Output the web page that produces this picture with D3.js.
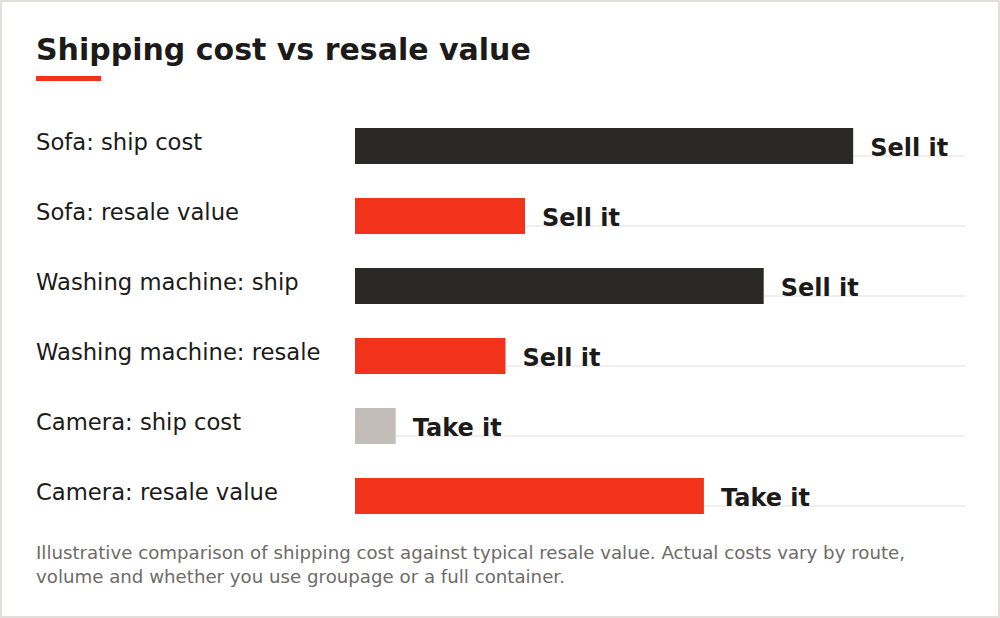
<!DOCTYPE html>
<html>
<head>
    <meta charset="utf-8">
    <title>Shipping cost vs resale value</title>
    <script src="https://d3js.org/d3.v7.min.js"></script>
    <style>
        html, body {
            margin: 0;
            padding: 0;
            background: #fff;
        }
        svg {
            display: block;
            font-family: "DejaVu Sans", sans-serif;
        }
    </style>
</head>
<body>
    <svg id="chart" width="1000" height="618"></svg>

    <script>
        // Data
        const categories = [
            "Sofa: ship cost",
            "Sofa: resale value",
            "Washing machine: ship",
            "Washing machine: resale",
            "Camera: ship cost",
            "Camera: resale value"
        ];
        const values = [1225, 418, 1005, 370, 100, 858];
        const kinds = ["ship", "resale", "ship", "resale", "ship", "resale"];
        const verdicts = ["Sell it", "Sell it", "Sell it", "Sell it", "Take it", "Take it"];
        const domainMax = 1500;

        const colors = {
            ship: "#2b2927",
            resale: "#f2321a",
            shipSmall: "#c2bdb9"
        };

        const svg = d3.select("#chart");
        const width = +svg.attr("width");
        const height = +svg.attr("height");

        // frame
        svg.append("rect")
            .attr("x", 1).attr("y", 1)
            .attr("width", width - 2).attr("height", height - 2)
            .attr("fill", "#fff")
            .attr("stroke", "#e2dfdb")
            .attr("stroke-width", 2);

        // title + accent bar
        svg.append("text")
            .attr("x", 36).attr("y", 60)
            .attr("font-size", 30)
            .attr("font-weight", "bold")
            .attr("fill", "#1c1b1a")
            .text("Shipping cost vs resale value");

        svg.append("rect")
            .attr("x", 36).attr("y", 76)
            .attr("width", 65).attr("height", 5)
            .attr("fill", "#f2321a");

        const x = d3.scaleLinear()
            .domain([0, domainMax])
            .range([355, 965]);

        const y = d3.scaleBand()
            .domain(categories)
            .range([118, 538])
            .paddingInner(0);

        const barH = 36;
        const rows = svg.append("g")
            .selectAll("g")
            .data(categories)
            .join("g")
            .attr("transform", d => `translate(0,${y(d) + 10})`);

        // faint track line
        rows.append("line")
            .attr("x1", x(0)).attr("x2", x(domainMax))
            .attr("y1", 28).attr("y2", 28)
            .attr("stroke", "#ece9e6")
            .attr("stroke-width", 1.5);

        rows.append("text")
            .attr("x", 36).attr("y", 22)
            .attr("font-size", 22.7)
            .attr("fill", "#1c1b1a")
            .text(d => d);

        rows.append("rect")
            .attr("x", x(0))
            .attr("y", 0)
            .attr("height", barH)
            .attr("width", (d, i) => x(values[i]) - x(0))
            .attr("fill", (d, i) => {
                if (kinds[i] === "resale") return colors.resale;
                return values[i] < 200 ? colors.shipSmall : colors.ship;
            });

        rows.append("text")
            .attr("x", (d, i) => x(values[i]) + 17)
            .attr("y", 28)
            .attr("font-size", 24)
            .attr("font-weight", "bold")
            .attr("fill", "#1c1b1a")
            .text((d, i) => verdicts[i]);

        // footnote
        const note = svg.append("text")
            .attr("x", 36).attr("y", 559)
            .attr("font-size", 18.2)
            .attr("fill", "#6e6a67");
        note.append("tspan")
            .attr("x", 36)
            .text("Illustrative comparison of shipping cost against typical resale value. Actual costs vary by route,");
        note.append("tspan")
            .attr("x", 36).attr("dy", 24)
            .text("volume and whether you use groupage or a full container.");
    </script>
</body>
</html>
